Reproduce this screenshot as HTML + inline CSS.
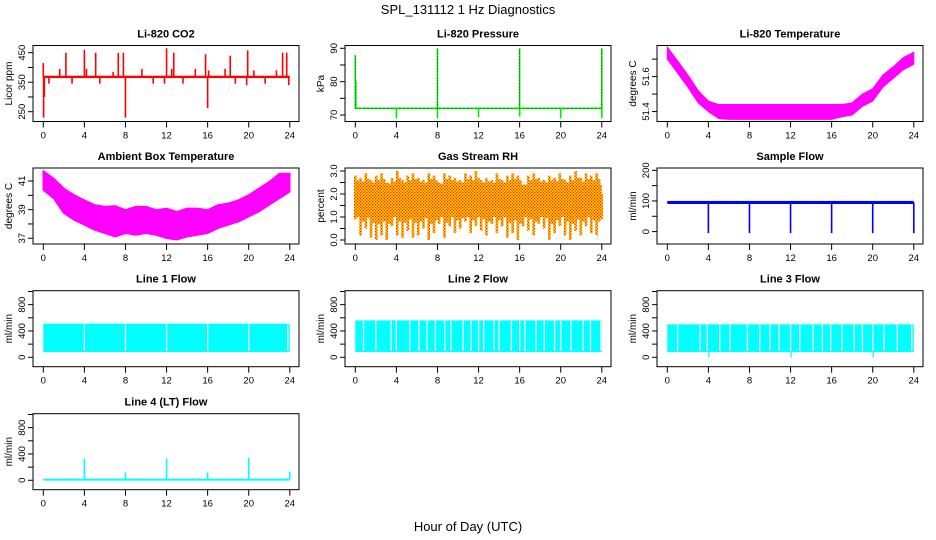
<!DOCTYPE html>
<html><head><meta charset="utf-8"><style>
html,body{margin:0;padding:0;background:#fff}
svg{display:block;font-family:"Liberation Sans",Arial,sans-serif}
</style></head><body>
<svg id="chart" width="936" height="540" viewBox="0 0 936 540" xmlns="http://www.w3.org/2000/svg">
<defs>
<pattern id="rhpat" width="3" height="3" patternUnits="userSpaceOnUse"><rect width="3" height="3" fill="#ffd700"/><rect x="0" y="0" width="1.3" height="1.3" fill="#ff2000"/><rect x="1.5" y="1.5" width="1.3" height="1.3" fill="#ff2000"/></pattern>
</defs>
<text x="468" y="14" font-size="13" text-anchor="middle">SPL_131112  1 Hz Diagnostics</text>
<text x="468" y="531" font-size="13" text-anchor="middle">Hour of Day (UTC)</text>
</svg>
<script>
// ---- data ----
const hours = [0,4,8,12,16,20,24];
const co2Base = 368;
const co2SpikeHours = [0.0,0.03,0.1,0.55,1.6,2.2,2.8,4.0,4.2,5.1,5.5,6.8,7.3,7.8,8.0,9.6,10.7,11.8,12.0,12.5,12.7,13.6,14.8,15.8,16.0,16.1,17.7,18.2,18.7,19.8,19.9,20.5,21.6,22.7,23.3,23.7,23.9];
const co2SpikeVals  = [415,230,300,345,395,450,345,460,395,450,345,385,450,450,230,395,345,345,465,395,450,345,395,445,262,390,395,440,345,340,458,390,345,390,450,450,340];
const presBase = 72;
const presSpikeHours = [0,0.05,4,8,8,12,16,16,20,24,24];
const presSpikeVals  = [88,80,69,90,69,69.3,90,69.5,69,90,69];
const liTempUpper = [51.77,51.69,51.61,51.52,51.46,51.44,51.44,51.44,51.44,51.44,51.44,51.44,51.44,51.44,51.44,51.44,51.44,51.44,51.45,51.50,51.53,51.61,51.656,51.71,51.74];
const liTempLower = [51.70,51.62,51.54,51.45,51.40,51.36,51.355,51.355,51.355,51.355,51.355,51.355,51.355,51.355,51.355,51.355,51.355,51.37,51.38,51.43,51.46,51.54,51.59,51.64,51.67];
const ambUpper = [41.70,41.19,40.49,40.02,39.67,39.33,39.21,39.26,38.98,39.21,39.21,38.98,39.09,38.86,39.09,39.09,38.98,39.33,39.44,39.67,40.02,40.49,40.95,41.53,41.53];
const ambLower = [40.37,39.79,38.75,38.28,37.93,37.58,37.35,37.11,37.35,37.23,37.35,37.23,37.0,36.9,37.11,37.23,37.35,37.7,37.93,38.16,38.51,38.86,39.33,39.79,40.25];
const rhMax = [2.8,2.7,2.9,2.6,2.8,2.9,2.5,2.7,3.0,2.6,2.8,2.9,2.7,2.6,2.9,2.8,2.5,2.9,2.8,2.7,2.6,2.9,2.8,3.0,2.6,2.7,2.6,2.9,2.6,2.8,2.9,2.8,2.4,2.8,2.9,2.7,2.6,2.8,2.7,2.9,2.6,2.8,3.0,2.7,2.9,2.8,2.9,2.0];
const rhMin = [0.9,0.2,0.5,0.1,0.0,0.2,0.0,0.6,0.2,0.1,0.4,0.1,0.2,0.5,0.0,0.3,0.7,0.1,0.6,0.3,0.5,0.8,0.3,0.6,0.4,0.2,0.7,0.3,0.6,0.1,0.3,0.0,0.6,0.4,0.2,0.7,0.5,0.0,0.3,0.6,0.2,0.0,0.4,0.2,0.6,0.3,0.2,0.9];
const rhCoreLo = 1.0, rhCoreHi = 2.4;
const sampleBase = [90,100];
const sampleDipHours = [4,8,12,16,20,24];
const sampleDipVals = [-5,-5,-5,-5,-5,-5];
const line1Band = [80,510];
const line1Gaps = [4,8,12,16,20,23.8];
const line2Band = [80,560];
const line2Gaps = [0.8,2.0,3.5,4,5.3,6.2,7,7.8,8.7,9.3,10.5,11.3,12,12.5,13.5,14,15.2,16,16.5,17.6,18.4,19.4,20,21,22.2,22.9,23.9];
const line3Band = [80,500];
const line3Gaps = [1.0,3.2,3.9,5.1,6.1,7.8,9.0,10.0,10.9,12.0,12.9,14.2,15.1,15.9,17.0,18.2,19.0,20.0,21.1,22.4,23.8];
const line4Base = 10;
const line4SpikeHours = [4,8,12,16,20,24];
const line4SpikeVals = [330,120,330,120,340,130];

// ---- layout ----
const NS='http://www.w3.org/2000/svg';
const svg=document.getElementById('chart');
const colL=[33,345,657], rowT=[45.5,168,290.7,413.7], BW=266, BH=76;
function el(tag,attrs,parent){const e=document.createElementNS(NS,tag);for(const k in attrs)e.setAttribute(k,attrs[k]);(parent||svg).appendChild(e);return e;}

function panel(name,col,row,title,ylab,ymin,ymax,ticks,labels){
  const g=el('g',{});
  
  
  const L=colL[col],T=rowT[row];
  const X=h=>L+10.3+h*246.5/24;
  const Y=v=>T+BH-(v-ymin)/(ymax-ymin)*BH;
  const clip=el('clipPath',{id:'clip-'+name},g);
  el('rect',{x:L,y:T,width:BW,height:BH},clip);
  const plot=el('g',{'clip-path':'url(#clip-'+name+')'},g);
  
  
  const box=el('rect',{x:L,y:T,width:BW,height:BH,fill:'none',stroke:'#000','stroke-width':1},g);
  
  
  const t=el('text',{x:L+BW/2,y:T-8,'font-size':11,'font-weight':'bold','text-anchor':'middle'},g);
  t.textContent=title;
  
  
  const yl=el('text',{transform:`translate(${L-21},${T+BH/2}) rotate(-90)`,'font-size':10,'text-anchor':'middle'},g);
  yl.textContent=ylab;
  
  
  hours.forEach(h=>{
    el('line',{x1:X(h),x2:X(h),y1:T+BH,y2:T+BH+6,stroke:'#000'},g);
    const tx=el('text',{x:X(h),y:T+BH+17,'font-size':9.5,'text-anchor':'middle'},g);
    tx.textContent=h;
    
    
  });
  ticks.forEach(v=>{
    el('line',{x1:L,x2:L-5,y1:Y(v),y2:Y(v),stroke:'#000'},g);
  });
  labels.forEach(v=>{
    const tx=el('text',{transform:`translate(${L-8},${Y(v)}) rotate(-90)`,'font-size':9.5,'text-anchor':'middle'},g);
    tx.textContent=typeof v==='number'&&ymax<5?v.toFixed(1):v;
    
    
  });
  return {X,Y,plot};
}
function vline(p,h,v1,v2,col,w){return el('line',{x1:p.X(h),x2:p.X(h),y1:p.Y(v1),y2:p.Y(v2),stroke:col,'stroke-width':w},p.plot);}

// CO2
let p=panel('co2',0,0,'Li-820 CO2','Licor ppm',216.8,474.4,[250,300,350,400,450],[250,350,450]);
let r=el('rect',{x:p.X(0),y:p.Y(372),width:p.X(24)-p.X(0),height:p.Y(364)-p.Y(372),fill:'#ff0000'},p.plot);


co2SpikeHours.forEach((h,i)=>{const l=vline(p,h,co2Base,co2SpikeVals[i],'#ff0000',1.6);

});

// Pressure
p=panel('pressure',1,0,'Li-820 Pressure','kPa',68.05,90.84,[70,75,80,85,90],[70,80,90]);
r=el('line',{x1:p.X(0),x2:p.X(24),y1:p.Y(presBase),y2:p.Y(presBase),stroke:'#00ee00','stroke-width':1.6},p.plot);


el('line',{x1:p.X(0),x2:p.X(24),y1:p.Y(presBase),y2:p.Y(presBase),stroke:'#000','stroke-width':0.6,'stroke-dasharray':'1 3'},p.plot);
presSpikeHours.forEach((h,i)=>{const l=vline(p,h,presBase,presSpikeVals[i],'#00ee00',1.6);


if(presSpikeVals[i]>presBase)el('line',{x1:p.X(h),x2:p.X(h),y1:p.Y(presBase),y2:p.Y(presSpikeVals[i]),stroke:'#000','stroke-width':0.7,'stroke-dasharray':'1 2'},p.plot);});

// Li-820 temperature
p=panel('li-temp',2,0,'Li-820 Temperature','degrees C',51.343,51.778,[51.4,51.5,51.6,51.7],[51.4,51.6]);
let tpts=liTempUpper.map((v,i)=>p.X(i)+','+p.Y(v)).concat(liTempLower.map((v,i)=>[i,v]).reverse().map(a=>p.X(a[0])+','+p.Y(a[1])));
r=el('polygon',{points:tpts.join(' '),fill:'#ff00ff',stroke:'#ff00ff','stroke-width':1},p.plot);



// Ambient
p=panel('ambient-temp',0,1,'Ambient Box Temperature','degrees C',36.6,41.91,[37,38,39,40,41],[37,39,41]);
let pts=ambUpper.map((v,i)=>p.X(i)+','+p.Y(v)).concat(ambLower.map((v,i)=>[i,v]).reverse().map(a=>p.X(a[0])+','+p.Y(a[1])));
r=el('polygon',{points:pts.join(' '),fill:'#ff00ff',stroke:'#ff00ff','stroke-width':1.5},p.plot);



// RH
p=panel('gas-rh',1,1,'Gas Stream RH','percent',-0.174,3.13,[0,0.5,1,1.5,2,2.5,3],[0,1,2,3]);
r=el('rect',{x:p.X(0),y:p.Y(rhCoreHi),width:p.X(24)-p.X(0),height:p.Y(rhCoreLo)-p.Y(rhCoreHi),fill:'url(#rhpat)'},p.plot);


rhMax.forEach((v,i)=>{const h=i*24/(rhMax.length-1);const l=vline(p,h,rhMin[i],v,'url(#rhpat)',2.6);


const h2=h+0.25;if(h2<24){const l2=vline(p,h2,(rhMin[i]+rhCoreLo)/2+0.2,(v+rhCoreHi)/2,'url(#rhpat)',2.6);

}});

// Sample flow
p=panel('sample-flow',2,1,'Sample Flow','ml/min',-40.5,207.5,[0,50,100,150,200],[0,100,200]);
r=el('rect',{x:p.X(0),y:p.Y(sampleBase[1]),width:p.X(24)-p.X(0),height:p.Y(sampleBase[0])-p.Y(sampleBase[1]),fill:'#0000ff'},p.plot);


sampleDipHours.forEach((h,i)=>{const l=vline(p,h,95,sampleDipVals[i],'#0000ff',1.6);

});

// Line flows
function flowPanel(name,col,row,title,band,gaps){
  const q=panel(name,col,row,title,'ml/min',-143,1012,[0,200,400,600,800,1000],[0,400,800]);
  const b=el('rect',{x:q.X(0),y:q.Y(band[1]),width:q.X(24)-q.X(0),height:q.Y(band[0])-q.Y(band[1]),fill:'#00ffff'},q.plot);
  
  
  gaps.forEach(h=>{const l=vline(q,h,band[0]+20,band[1]-10,'#ffffff',1.3);
  
  });
  return q;
}
flowPanel('line1-flow',0,2,'Line 1 Flow',line1Band,line1Gaps);
flowPanel('line2-flow',1,2,'Line 2 Flow',line2Band,line2Gaps);
p=flowPanel('line3-flow',2,2,'Line 3 Flow',line3Band,line3Gaps);
[4,12,20].forEach(h=>vline(p,h+0.05,80,0,'#00ffff',1.3));

// Line 4
p=panel('line4-flow',0,3,'Line 4 (LT) Flow','ml/min',-143,1012,[0,200,400,600,800,1000],[0,400,800]);
r=el('line',{x1:p.X(0),x2:p.X(24),y1:p.Y(line4Base),y2:p.Y(line4Base),stroke:'#00ffff','stroke-width':2},p.plot);


line4SpikeHours.forEach((h,i)=>{const l=vline(p,h,line4Base,line4SpikeVals[i],'#00ffff',1.6);

});
</script>
</body></html>
